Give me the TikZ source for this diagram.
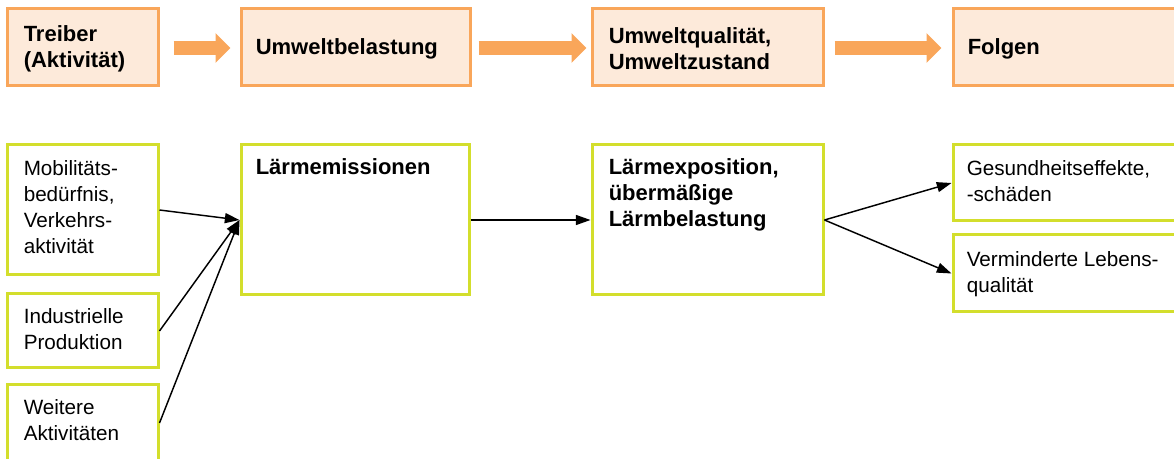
\documentclass[tikz,border=0pt]{standalone}
\usepackage{fontspec}
\setmainfont{Liberation Sans}
\usetikzlibrary{arrows.meta,calc}
\definecolor{orbord}{HTML}{F9A65A}
\definecolor{orfill}{HTML}{FDEADA}
\definecolor{grbord}{HTML}{D3DE2C}
\begin{document}
\begin{tikzpicture}[x=0.75pt,y=-0.75pt,
  topbox/.style={draw=orbord,fill=orfill,line width=2.25pt,minimum height=57.75pt,inner sep=0pt},
  grbox/.style={draw=grbord,fill=white,line width=2.25pt,inner sep=0pt},
  boldtxt/.style={font=\fontsize{16.5}{19.5}\selectfont\bfseries,align=left,inner sep=0pt},
  regtxt/.style={font=\fontsize{15.5}{19.5}\selectfont,align=left,inner sep=0pt},
  fatarrow/.style={draw=orbord,line width=10.5pt,-{Triangle[length=11.25pt,width=21.75pt]}},
  conn/.style={draw=black,line width=1.1pt,-{Triangle[length=11pt,width=7.5pt]}}]
\useasboundingbox (0,0) rectangle (1174,459);

% top row
\node[topbox,minimum width=113.25pt] (t1) at (82.5,47.5) {};
\node[topbox,minimum width=171.75pt] (t2) at (355.5,47.5) {};
\node[topbox,minimum width=173.25pt] (t3) at (707.5,47.5) {};
\node[topbox,minimum width=177.75pt] (t4) at (1071.5,47.5) {};
\node[boldtxt,anchor=west] (t1t) at ([shift={(18,1)}]t1.west) {Treiber\\(Aktivität)};
\node[boldtxt,anchor=west] (t2t) at ([shift={(16,1)}]t2.west) {Umweltbelastung};
\node[boldtxt,anchor=west] (t3t) at ([shift={(18,1)}]t3.west) {Umweltqualität,\\Umweltzustand};
\node[boldtxt,anchor=west] (t4t) at ([shift={(16,1)}]t4.west) {Folgen};

\draw[fatarrow] ([shift={(14,0.5)}]t1.east) -- ([shift={(-9,0.5)}]t2.west);
\draw[fatarrow] ([shift={(7,0.5)}]t2.east) -- ([shift={(-4,0.5)}]t3.west);
\draw[fatarrow] ([shift={(10,0.5)}]t3.east) -- ([shift={(-10,0.5)}]t4.west);

% lower part
\node[grbox,minimum width=113.25pt,minimum height=97.5pt] (g1) at (82.5,210) {};
\node[grbox,minimum width=113.25pt,minimum height=55.5pt] (g2) at (82.5,331) {};
\node[grbox,minimum width=113.25pt,minimum height=57pt] (g3) at (82.5,423) {};
\node[grbox,minimum width=171pt,minimum height=112.5pt] (m1) at (355,220) {};
\node[grbox,minimum width=173.25pt,minimum height=112.5pt] (m2) at (707.5,220) {};
\node[grbox,minimum width=177.75pt,minimum height=57pt] (r1) at (1071.5,183) {};
\node[grbox,minimum width=177.75pt,minimum height=57.75pt] (r2) at (1071.5,273.5) {};

\node[regtxt,anchor=north west] (g1t) at ([shift={(18,17)}]g1.north west) {Mobilitäts-\\bedürfnis,\\Verkehrs-\\aktivität};
\node[regtxt,anchor=north west] (g2t) at ([shift={(18,16)}]g2.north west) {Industrielle\\Produktion};
\node[regtxt,anchor=north west] (g3t) at ([shift={(18,16)}]g3.north west) {Weitere\\Aktivitäten};
\node[boldtxt,anchor=north west] (m1t) at ([shift={(16,15)}]m1.north west) {Lärmemissionen};
\node[boldtxt,anchor=north west] (m2t) at ([shift={(18,15)}]m2.north west) {Lärmexposition,\\übermäßige\\Lärmbelastung};
\node[regtxt,anchor=north west] (r1t) at ([shift={(15,17)}]r1.north west) {Gesundheitseffekte,\\-schäden};
\node[regtxt,anchor=north west] (r2t) at ([shift={(15,18)}]r2.north west) {Verminderte Lebens-\\qualität};

\draw[conn] (g1.east) -- (m1.west);
\draw[conn] (g2.east) -- (m1.west);
\draw[conn] (g3.east) -- (m1.west);
\draw[conn] (m1.east) -- (m2.west);
\draw[conn] (m2.east) -- (r1.west);
\draw[conn] (m2.east) -- (r2.west);
\end{tikzpicture}
\end{document}
